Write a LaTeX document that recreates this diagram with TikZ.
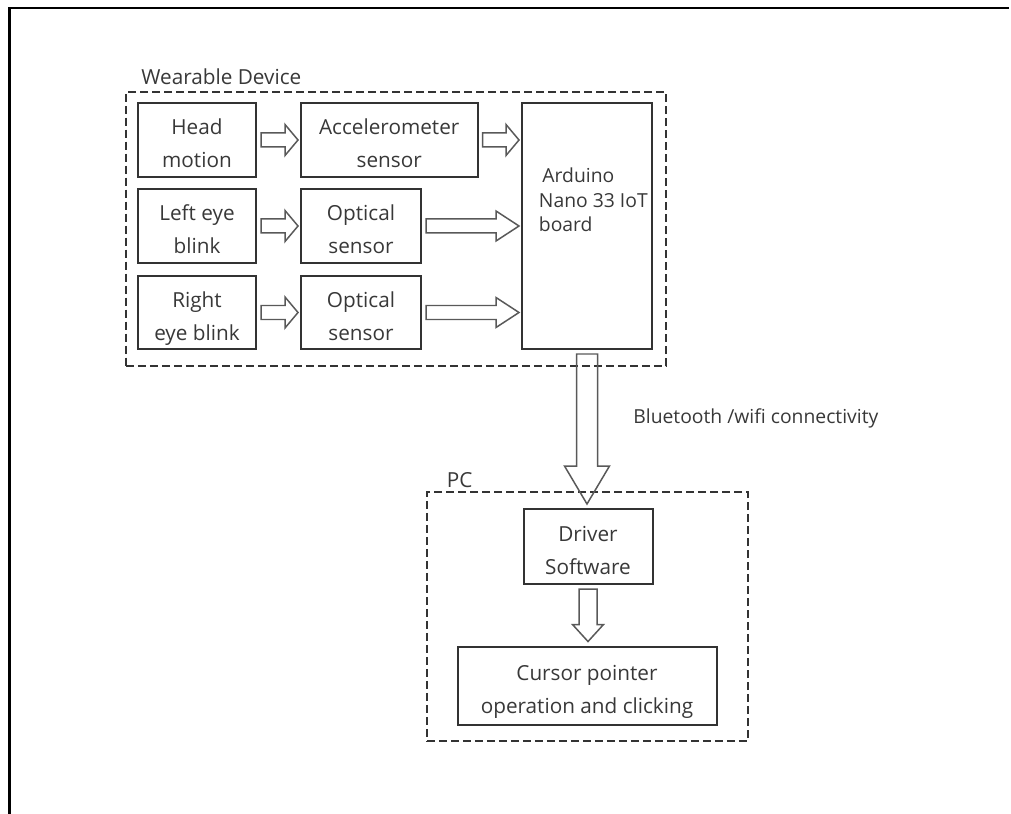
\documentclass[tikz,border=0pt]{standalone}
\usepackage{fontspec}
\setmainfont{Open Sans}
\usetikzlibrary{calc}

\definecolor{inkgray}{gray}{0.22}
\definecolor{linegray}{gray}{0.2}
\definecolor{arrowgray}{gray}{0.35}
\def\unit{0.02cm}
\tikzstyle{every node}=[font=\fontsize{11.8pt}{18.8pt}\selectfont, text=inkgray]
\tikzstyle{block}=[draw=linegray, line width=0.04cm, inner sep=0pt, align=center, text height=1.12cm, text depth=0cm]
\tikzstyle{group}=[draw=linegray, line width=0.04cm, dash pattern=on 0.16cm off 0.08cm, inner sep=0pt]
\tikzstyle{hollow}=[draw=arrowgray, line width=0.03cm, line join=miter]
\tikzstyle{caption}=[anchor=base west, inner sep=0pt]

% hollow block arrows: from, to, half shaft, half head, head length
\newcommand\fatright[5]{%
  \draw[hollow] ($(#1)+(4,-#3)$) -- ($(#2)+(-2-#5,-#3)$) -- ($(#2)+(-2-#5,-#4)$) -- ($(#2)+(-2,0)$)
    -- ($(#2)+(-2-#5,#4)$) -- ($(#2)+(-2-#5,#3)$) -- ($(#1)+(4,#3)$) -- cycle;}
\newcommand\fatdown[5]{%
  \draw[hollow] ($(#1)+(-#3,4)$) -- ($(#2)+(-#3,-4-#5)$) -- ($(#2)+(-#4,-4-#5)$) -- ($(#2)+(0,-4)$)
    -- ($(#2)+(#4,-4-#5)$) -- ($(#2)+(#3,-4-#5)$) -- ($(#1)+(#3,4)$) -- cycle;}

\begin{document}
\begin{tikzpicture}[x=\unit, y=-\unit]
\useasboundingbox (0,0) rectangle (1011,814);
\draw[line width=0.055cm] (9.7,814) -- (9.7,8) -- (1009,8);

\node [group, minimum width=540*\unit, minimum height=274*\unit] (wear) at (396,229) {};
\node [group, minimum width=321*\unit, minimum height=249*\unit] (pc) at (587.5,616.5) {};
\node [caption] (weartitle) at (141,85) {Wearable Device};
\node [caption] (pctitle) at (446.5,487) {PC};

\node [block, minimum width=118*\unit, minimum height=74*\unit] (head) at (197,140) {Head\\motion};
\node [block, minimum width=118*\unit, minimum height=74*\unit] (leye) at (197,226) {Left eye\\blink};
\node [block, minimum width=118*\unit, minimum height=73*\unit] (reye) at (197,312.5) {Right\\eye blink};
\node [block, minimum width=176.5*\unit, minimum height=74*\unit] (accel) at (389.25,140) {Accelerometer\\sensor};
\node [block, minimum width=120*\unit, minimum height=74*\unit] (opt1) at (361,226) {Optical\\sensor};
\node [block, minimum width=120*\unit, minimum height=73*\unit] (opt2) at (361,312.5) {Optical\\sensor};
\node [block, minimum width=130*\unit, minimum height=246*\unit] (ard) at (587,226) {};
\node [caption, align=left, font=\fontsize{11pt}{13.9pt}\selectfont] (ardtext) at (538.6,231.7)
  {\hspace*{0.07cm}Arduino\\Nano 33 IoT\\board};

\node [block, minimum width=129*\unit, minimum height=75*\unit] (driver) at (588,546.5) {Driver\\Software};
\node [block, minimum width=259*\unit, minimum height=78*\unit] (cursor) at (587,685.5) {Cursor pointer\\operation and clicking};
\node [caption, font=\fontsize{11pt}{13.9pt}\selectfont] (link) at (633,423) {Bluetooth /wifi connectivity};

\fatright{head.east}{accel.west}{7}{15.5}{13}
\fatright{leye.east}{opt1.west}{7}{15.5}{13}
\fatright{reye.east}{opt2.west}{7}{15.5}{13}
\fatright{accel.east}{ard.west |- accel.east}{7}{15.5}{13}
\fatright{opt1.east}{ard.west |- opt1.east}{7}{15}{23}
\fatright{opt2.east}{ard.west |- opt2.east}{7}{15}{23}
\fatdown{ard.south}{ard.south |- driver.north}{10.5}{22.5}{38}
\fatdown{driver.south}{driver.south |- cursor.north}{9}{15.5}{17}
\end{tikzpicture}
\end{document}
